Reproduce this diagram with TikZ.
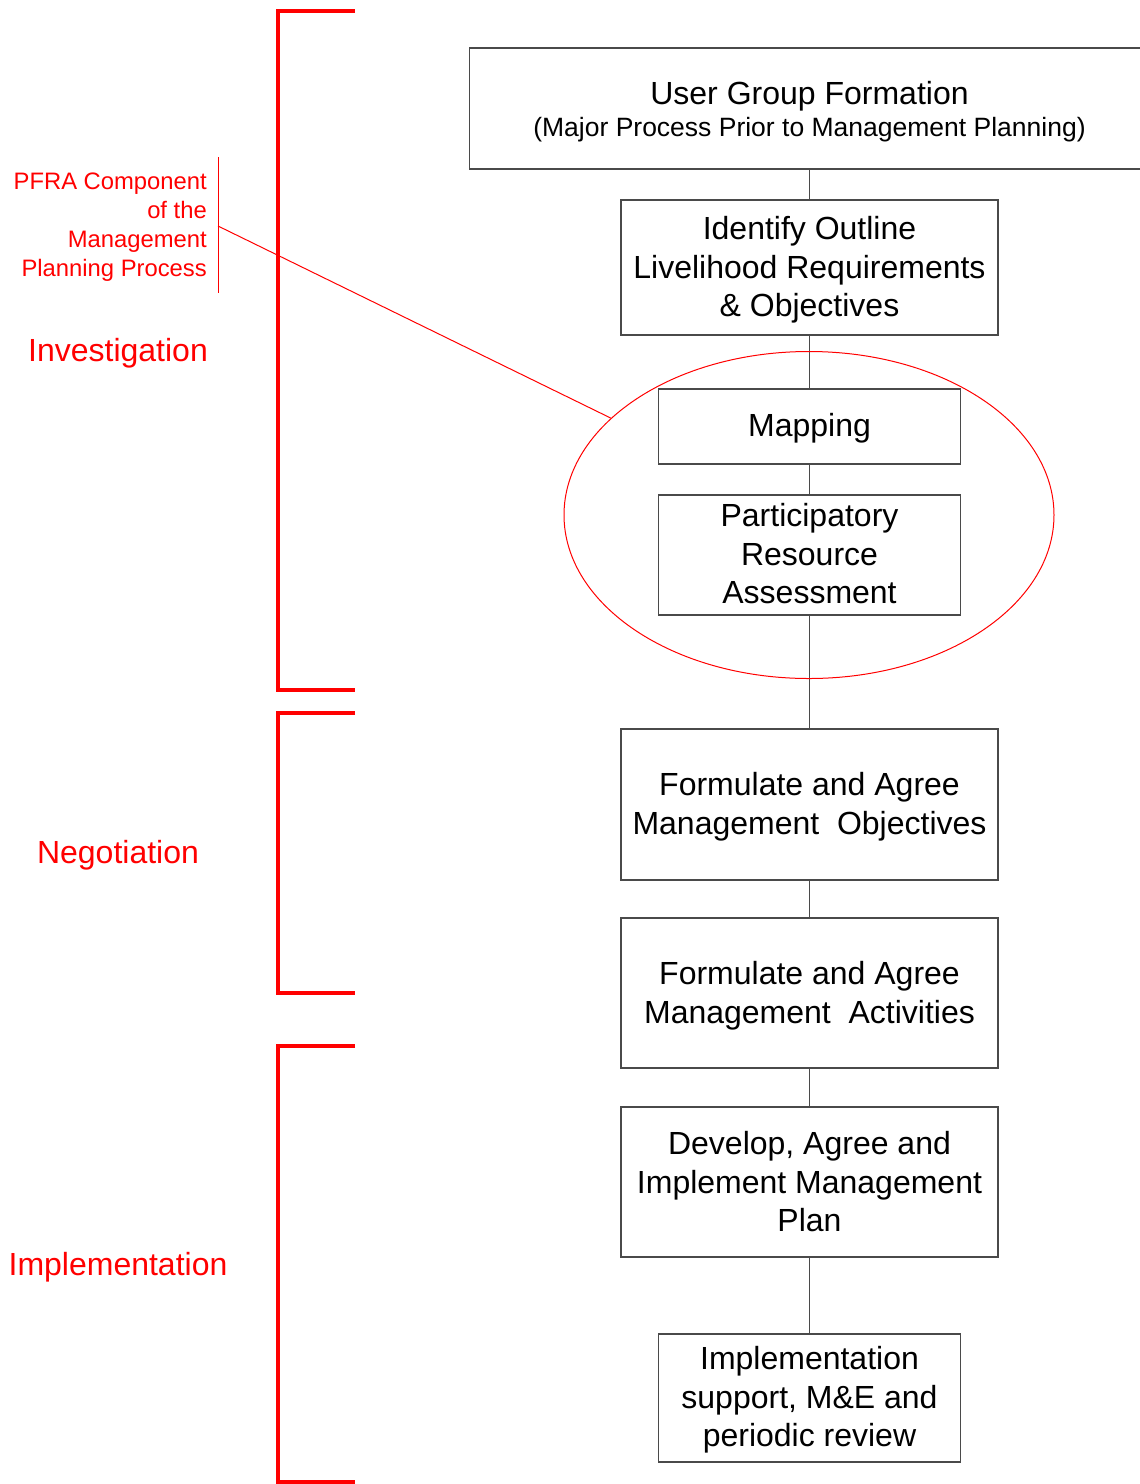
\documentclass[tikz,border=0pt]{standalone}
\usepackage{fontspec}
\setmainfont{Liberation Sans}
\usetikzlibrary{shapes.geometric}
\definecolor{boxgray}{HTML}{4A4A4A}
\definecolor{pred}{HTML}{FF0000}
\tikzset{
  stepbox/.style={draw=boxgray, line width=1.2pt, inner sep=0pt},
  steptext/.style={align=center, inner sep=0pt, text=black,
    font=\fontsize{32}{38.5}\selectfont},
  conn/.style={draw=boxgray, line width=1.2pt},
  bracket/.style={draw=pred, line width=4.5pt},
  phase/.style={text=pred, inner sep=0pt, font=\fontsize{32}{38}\selectfont},
  note/.style={text=pred, inner sep=0pt, align=right, font=\fontsize{23.8}{29}\selectfont},
  leader/.style={draw=pred, line width=1pt}
}
\begin{document}
\begin{tikzpicture}[x=1pt,y=-1pt]
\useasboundingbox (0,0) rectangle (1140,1484);
% boxes
\node[stepbox, minimum width=680pt, minimum height=121pt] (ug) at (809.5,108.5) {};
\node[steptext] (ugt) at ([yshift=-3pt]ug.center)
  {User Group Formation\\[-6pt]{\fontsize{26.5}{32}\selectfont (Major Process Prior to Management Planning)}};
\node[stepbox, minimum width=377pt, minimum height=135pt] (ident) at (809.5,267.5) {};
\node[steptext] (identt) at ([yshift=-2.5pt]ident.center)
  {Identify Outline\\Livelihood Requirements\\\& Objectives};
\node[stepbox, minimum width=302pt, minimum height=75pt] (map) at (809.5,426.5) {};
\node[steptext] (mapt) at ([yshift=-2pt]map.center) {Mapping};
\node[stepbox, minimum width=302pt, minimum height=120pt] (pra) at (809.5,555) {};
\node[steptext] (prat) at ([yshift=1pt]pra.center)
  {Participatory\\Resource\\Assessment};
\node[stepbox, minimum width=377pt, minimum height=151pt] (obj) at (809.5,804.5) {};
\node[steptext] (objt) at ([yshift=-2pt]obj.center)
  {Formulate and Agree\\Management\ \ Objectives};
\node[stepbox, minimum width=377pt, minimum height=150pt] (act) at (809.5,993) {};
\node[steptext] (actt) at ([yshift=-2.5pt]act.center)
  {Formulate and Agree\\Management\ \ Activities};
\node[stepbox, minimum width=377pt, minimum height=150pt] (dev) at (809.5,1182) {};
\node[steptext] (devt) at (dev.center)
  {Develop, Agree and\\Implement Management\\Plan};
\node[stepbox, minimum width=302pt, minimum height=128pt] (impl) at (809.5,1398) {};
\node[steptext] (implt) at ([yshift=-2pt]impl.center)
  {Implementation\\support, M\&E and\\periodic review};
% connectors
\draw[conn] (ug.south) -- (ident.north);
\draw[conn] (ident.south) -- (map.north);
\draw[conn] (map.south) -- (pra.north);
\draw[conn] (pra.south) -- (obj.north);
\draw[conn] (obj.south) -- (act.north);
\draw[conn] (act.south) -- (dev.north);
\draw[conn] (dev.south) -- (impl.north);
% ellipse
\node[draw=pred, line width=1pt, ellipse, minimum width=490pt, minimum height=327pt, inner sep=0pt] (ell) at (809,515) {};
% note and leader
\node[note, anchor=east] (pfra) at (207,227.5) {PFRA Component\\of the\\Management\\Planning Process};
\coordinate (vtop) at (218,157);
\coordinate (vbot) at (218,293);
\coordinate (lead) at (218,226);
\draw[leader] (vtop) -- (vbot);
\draw[leader] (lead) -- (ell);
% brackets
\draw[bracket] (355,11) -- (278,11) -- (278,690) -- (355,690);
\draw[bracket] (355,713) -- (278,713) -- (278,993) -- (355,993);
\draw[bracket] (355,1046) -- (278,1046) -- (278,1482) -- (355,1482);
% phase labels
\node[phase] (inv) at (118,353) {Investigation};
\node[phase] (neg) at (118,855) {Negotiation};
\node[phase] (imp) at (118,1267) {Implementation};
\end{tikzpicture}
\end{document}
